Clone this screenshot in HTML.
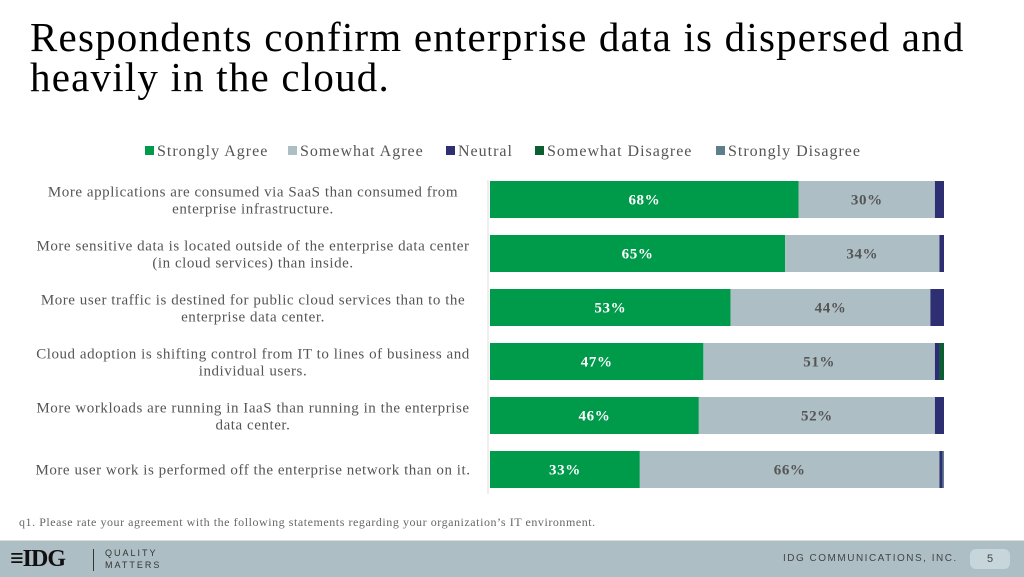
<!DOCTYPE html>
<html><head><meta charset="utf-8"><style>
body{margin:0;width:1024px;height:576px;overflow:hidden;background:#fff;font-family:"Liberation Serif",serif;position:relative}
.t{position:absolute;left:30px;top:17px;font-size:41px;line-height:40px;letter-spacing:1.2px;color:#000}
</style></head><body>
<div class="t">Respondents confirm enterprise data is dispersed and<br>heavily in the cloud.</div>
<svg id="c" width="1024" height="576" style="position:absolute;left:0;top:0"></svg>
<script>
const categories=["More applications are consumed via SaaS than consumed from|enterprise infrastructure.","More sensitive data is located outside of the enterprise data center|(in cloud services) than inside.","More user traffic is destined for public cloud services than to the|enterprise data center.","Cloud adoption is shifting control from IT to lines of business and|individual users.","More workloads are running in IaaS than running in the enterprise|data center.","More user work is performed off the enterprise network than on it."];
const seriesNames=["Strongly Agree","Somewhat Agree","Neutral","Somewhat Disagree","Strongly Disagree"];
const stronglyAgree=[68,65,53,47,46,33];
const somewhatAgree=[30,34,44,51,52,66];
const neutral=[2,1,3,1,2,0.7];
const somewhatDisagree=[0,0,0,1,0,0];
const stronglyDisagree=[0,0,0,0,0,0.3];
const colors=["#009A4B","#ADBEC4","#2E2F72","#0B5E2F","#5E7E8C"];
const series=[stronglyAgree,somewhatAgree,neutral,somewhatDisagree,stronglyDisagree];
const svg=document.getElementById('c');const NS='http://www.w3.org/2000/svg';
function mk(t,a){const e=document.createElementNS(NS,t);for(const k in a)e.setAttribute(k,a[k]);svg.appendChild(e);return e;}
const x0=490,pxPer=4.54,y0=181,step=54,bh=37;
const xs=v=>x0+v*pxPer;const ys=i=>y0+i*step;
let ax=mk('line',{x1:488,y1:180,x2:488,y2:494,stroke:'#ddd','stroke-width':1});

categories.forEach((c,i)=>{
  let acc=0;
  series.forEach((s,j)=>{
    const v=s[i];if(v<=0)return;
    const r=mk('rect',{x:xs(acc),y:ys(i),width:v*pxPer,height:bh,fill:colors[j]});
    
    if(j<2){const t=mk('text',{x:xs(acc+v/2),y:ys(i)+bh/2+5,'text-anchor':'middle','font-size':15,'letter-spacing':0.6,'font-weight':'bold',fill:j==0?'#fff':'#555'});
      t.textContent=Math.round(v)+'%';}
    acc+=v;
  });
  const lines=c.split('|');
  lines.forEach((ln,k)=>{
    const t=mk('text',{x:253,y:ys(i)+bh/2+5+(lines.length==2?(k==0?-8:9):0),'text-anchor':'middle','font-size':15,'letter-spacing':0.55,fill:'#555'});
    t.textContent=ln;
  });
});
const lx=[145,288,446,535,716];
seriesNames.forEach((n,j)=>{
  const r=mk('rect',{x:lx[j],y:146,width:9,height:9,fill:colors[j]});
  
  const t=mk('text',{x:lx[j]+12,y:156,'font-size':16,'letter-spacing':1.0,fill:'#555'});t.textContent=n;
  
});
</script>
<div style="position:absolute;left:19px;top:515px;font-size:12px;letter-spacing:0.55px;color:#666">q1. Please rate your agreement with the following statements regarding your organization’s IT environment.</div>
<div style="position:absolute;left:0;top:540px;width:1024px;height:36px;background:#ADBFC5;border-top:1px solid #ddd">
  <div style="position:absolute;left:10px;top:6px;font-size:24px;line-height:24px;color:#111;font-weight:bold;letter-spacing:-1px">≡IDG</div>
  <div style="position:absolute;left:93px;top:8px;width:1px;height:22px;background:#333"></div>
  <div style="position:absolute;left:105px;top:6px;font-family:'Liberation Sans',sans-serif;font-size:9px;line-height:12px;letter-spacing:2px;color:#333">QUALITY<br>MATTERS</div>
  <div style="position:absolute;left:783px;top:12px;font-family:'Liberation Sans',sans-serif;font-size:10px;letter-spacing:1.5px;color:#444">IDG COMMUNICATIONS, INC.</div>
  <div style="position:absolute;left:970px;top:8px;width:40px;height:20px;border-radius:6px;background:#C6D6DB;text-align:center;font-family:'Liberation Sans',sans-serif;font-size:11px;line-height:20px;color:#444">5</div>
</div>
</body></html>
